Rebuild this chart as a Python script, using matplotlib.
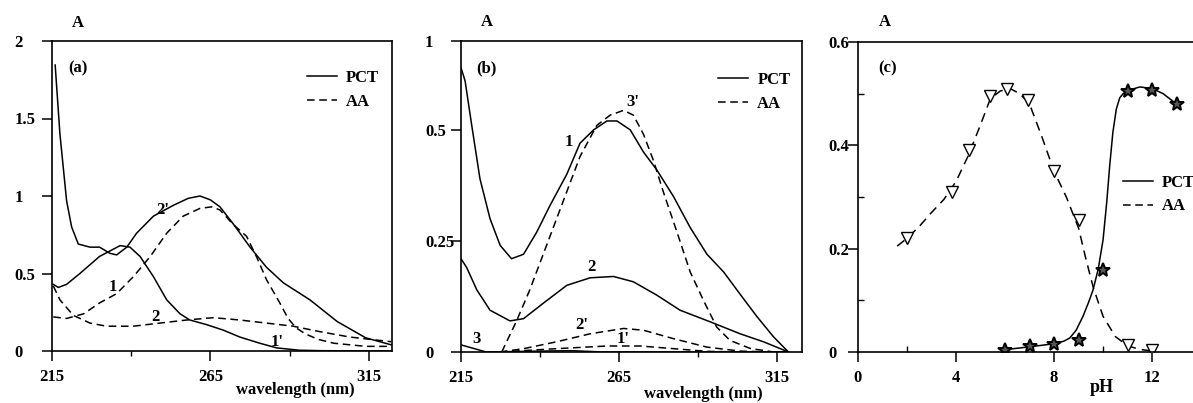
import matplotlib
matplotlib.use("Agg")
import matplotlib.pyplot as plt
from matplotlib.lines import Line2D

# ---------------- data ----------------
# Panel (a)
wl_a1 = [216, 217.5, 219.6, 221.2, 223.3, 227, 230, 233.3, 235.4, 238.6, 241.7, 247, 253.3,
         258, 261.7, 265, 268, 272.2, 277.5, 282.7, 288, 296.4, 305, 314, 322]
a_1 = [1.845, 1.40, 0.97, 0.80, 0.69, 0.67, 0.67, 0.63, 0.62, 0.67, 0.76, 0.87, 0.94,
       0.985, 1.0, 0.975, 0.93, 0.82, 0.67, 0.54, 0.44, 0.33, 0.19, 0.085, 0.04]
wl_a2 = [215.4, 217, 219.6, 223.8, 230, 236.5, 239.6, 242.8, 247, 251.2, 255.4, 258.5,
         263.8, 269, 274.3, 280.6, 285.9, 293, 300, 322]
a_2 = [0.43, 0.41, 0.43, 0.50, 0.61, 0.68, 0.67, 0.61, 0.48, 0.33, 0.24, 0.20,
       0.17, 0.135, 0.09, 0.05, 0.02, 0.005, 0.002, 0.0]
wl_a3 = [215.4, 219.6, 225, 230, 235.4, 240.7, 246, 251.2, 256.4, 261.7, 265.4, 268,
         272, 276.4, 279.5, 282.7, 286.9, 289.5, 292, 295, 299, 304, 314, 322]
a_3 = [0.22, 0.21, 0.24, 0.31, 0.37, 0.48, 0.61, 0.76, 0.87, 0.92, 0.93, 0.91,
       0.82, 0.74, 0.61, 0.46, 0.31, 0.21, 0.15, 0.11, 0.075, 0.05, 0.03, 0.03]
wl_a4 = [215.4, 217.5, 221.7, 227, 232.2, 240.7, 249, 257.5, 265.9, 274.3, 282.7,
         291.1, 299.5, 309, 322]
a_4 = [0.42, 0.33, 0.23, 0.18, 0.16, 0.16, 0.18, 0.20, 0.215, 0.20, 0.18,
       0.16, 0.125, 0.09, 0.06]
labels_a = ["2'", "1", "2", "1'"]
lab_a_x = [250.0, 234.2, 247.5, 286.0]
lab_a_y = [0.91, 0.41, 0.22, 0.06]

# Panel (b)
wl_b1 = [215, 216.3, 218.4, 221, 224.2, 227.4, 231, 234.8, 239, 243.2, 248.5, 252.7,
         257, 261.2, 264.4, 268.6, 272.8, 277, 282.3, 287.6, 292.9, 298.2, 303.4,
         308.7, 314, 318.7]
b_1 = [0.64, 0.61, 0.51, 0.39, 0.30, 0.24, 0.21, 0.22, 0.27, 0.33, 0.40, 0.47,
       0.50, 0.52, 0.52, 0.50, 0.45, 0.41, 0.35, 0.28, 0.22, 0.18, 0.13,
       0.08, 0.034, 0.0]
wl_b2 = [215, 216.8, 220, 224.2, 230.5, 234.8, 241.1, 248.5, 255.9, 263.3, 269.6,
         277, 284.4, 293.9, 303.4, 310.8, 318.7]
b_2 = [0.21, 0.19, 0.14, 0.094, 0.07, 0.075, 0.11, 0.15, 0.167, 0.17, 0.158,
       0.128, 0.094, 0.068, 0.041, 0.023, 0.0]
wl_b3 = [215, 219, 223, 240, 250, 260, 318.7]
b_3 = [0.016, 0.008, 0.0, 0.002, 0.003, 0.0, 0.0]
wl_b4 = [227.9, 232.6, 236.8, 242.1, 247.4, 252.7, 258, 262.2, 266.5, 269.6, 272.8,
         276, 279.1, 283.4, 287.6, 291.8, 296, 300.2, 306.6, 314, 318.7]
b_4 = [0.0, 0.07, 0.14, 0.24, 0.34, 0.44, 0.51, 0.533, 0.544, 0.533, 0.49,
       0.43, 0.36, 0.27, 0.18, 0.116, 0.056, 0.026, 0.008, 0.0, 0.0]
wl_b5 = [227.3, 234.8, 245.3, 255.9, 266.5, 272.8, 282.3, 292.9, 303.4, 314, 318.7]
b_5 = [0.0, 0.0075, 0.023, 0.041, 0.053, 0.049, 0.03, 0.011, 0.002, 0.0, 0.0]
wl_b6 = [227.3, 245.3, 261.2, 271.8, 282.3, 292.9, 303.4, 318.7]
b_6 = [0.0, 0.0075, 0.0135, 0.0135, 0.0075, 0.0015, 0.0, 0.0]
labels_b = ["1", "3'", "2", "2'", "1'", "3"]
lab_b_x = [249.0, 269.4, 256.4, 253.3, 266.5, 220.0]
lab_b_y = [0.473, 0.563, 0.191, 0.06, 0.03, 0.03]
yticks_b = [0, 0.25, 0.5, 0.7]
yticklabels_b = ["0", "0.25", "0.5", "1"]

# Panel (c)
ph_aa = [2, 3.85, 4.53, 5.37, 6.08, 6.95, 8.0, 9.0, 11.0, 12.0]
a_aa = [0.22, 0.31, 0.39, 0.496, 0.509, 0.488, 0.35, 0.255, 0.013, 0.004]
ph_pct = [6.0, 7.0, 8.0, 9.0, 10.0, 11.0, 12.0, 13.0]
a_pct = [0.003, 0.011, 0.0155, 0.024, 0.158, 0.506, 0.508, 0.48]
ph_aa_curve = [1.6, 2, 2.5, 3, 3.5, 4, 4.5, 5, 5.4, 5.8, 6.2, 6.6, 7, 7.5, 8, 8.5, 9,
               9.3, 9.6, 10, 10.5, 11, 11.5, 12]
a_aa_curve = [0.205, 0.22, 0.243, 0.27, 0.295, 0.33, 0.38, 0.44, 0.49, 0.505, 0.51,
              0.50, 0.48, 0.417, 0.35, 0.30, 0.24, 0.18, 0.125, 0.069, 0.03, 0.012,
              0.005, 0.002]
ph_pct_curve = [5.9, 7, 8, 8.4, 8.64, 8.9, 9.18, 9.4, 9.59, 9.8, 10.0, 10.15, 10.27,
                10.4, 10.54, 10.68, 10.82, 11.0, 11.5, 12.0, 12.45, 13.0]
a_pct_curve = [0.004, 0.01, 0.016, 0.021, 0.027, 0.042, 0.069, 0.095, 0.12, 0.16,
               0.217, 0.29, 0.36, 0.425, 0.47, 0.492, 0.50, 0.506, 0.513, 0.51, 0.50,
               0.48]

# ---------------- style ----------------
FONT = ["Liberation Serif", "DejaVu Serif"]
FS = 12
plt.rcParams["font.family"] = FONT
plt.rcParams["font.weight"] = "bold"
plt.rcParams["font.size"] = FS
DASH = (0, (5, 3))
LW = 1.1

W, H = 1193, 403
fig = plt.figure(figsize=(W / 100, H / 100), dpi=100)

def px_axes(left, top, right, bottom):
    return fig.add_axes([left / W, (H - bottom) / H, (right - left) / W, (bottom - top) / H])

ax_a = px_axes(52, 41, 392, 351)
ax_b = px_axes(461, 41, 802, 352)
ax_c = px_axes(858, 42, 1193, 352)

def style(ax, ypad):
    for s in ax.spines.values():
        s.set_linewidth(1.2)
    ax.tick_params(axis="both", which="major", direction="out", length=7, width=1.1,
                   labelsize=FS)
    ax.tick_params(axis="x", which="major", pad=6)
    ax.tick_params(axis="y", which="major", pad=ypad)
    for t in ax.get_yticklabels():
        t.set_horizontalalignment("left")
        t.set_fontweight("bold")
    for t in ax.get_xticklabels():
        t.set_fontweight("bold")

def legend(ax, x, y):
    h = [Line2D([], [], color="black", lw=LW),
         Line2D([], [], color="black", lw=LW, linestyle=DASH)]
    ax.legend(h, ["PCT", "AA"], loc="upper left", bbox_to_anchor=(x, y), frameon=False,
              borderpad=0, borderaxespad=0, handlelength=1.8, handletextpad=0.55,
              labelspacing=0.45, prop={"family": FONT, "weight": "bold", "size": FS})

# ---- panel (a)
ax = ax_a
ax.plot(wl_a1, a_1, color="black", lw=LW)
ax.plot(wl_a2, a_2, color="black", lw=LW)
ax.plot(wl_a3, a_3, color="black", lw=LW, linestyle=DASH)
ax.plot(wl_a4, a_4, color="black", lw=LW, linestyle=DASH)
for lab, x, y in zip(labels_a, lab_a_x, lab_a_y):
    ax.text(x, y, lab, ha="center", va="center", fontsize=FS, fontweight="bold")
ax.set_xlim(215, 322.3)
ax.set_ylim(0, 2)
ax.set_xticks([215, 265, 315])
ax.set_xticks([240, 290], minor=True)
ax.set_yticks([0, 0.5, 1, 1.5, 2])
ax.set_yticklabels(["0", "0.5", "1", "1.5", "2"])
ax.tick_params(axis="x", which="minor", direction="out", length=3.5, width=1.0)
style(ax, 20)
ax.text(0.076, 1.058, "A", transform=ax.transAxes, ha="center", va="center", fontsize=FS, fontweight="bold")
ax.text(0.077, 0.913, "(a)", transform=ax.transAxes, ha="center", va="center", fontsize=FS, fontweight="bold")
ax.text(0.715, -0.126, "wavelength (nm)", transform=ax.transAxes, ha="center", va="center",
        fontsize=FS, fontweight="bold")
legend(ax, 0.75, 0.906)

# ---- panel (b)
ax = ax_b
ax.plot(wl_b1, b_1, color="black", lw=LW)
ax.plot(wl_b2, b_2, color="black", lw=LW)
ax.plot(wl_b3, b_3, color="black", lw=LW)
ax.plot(wl_b4, b_4, color="black", lw=LW, linestyle=DASH)
ax.plot(wl_b5, b_5, color="black", lw=LW, linestyle=DASH)
ax.plot(wl_b6, b_6, color="black", lw=LW, linestyle=DASH)
for lab, x, y in zip(labels_b, lab_b_x, lab_b_y):
    ax.text(x, y, lab, ha="center", va="center", fontsize=FS, fontweight="bold")
ax.set_xlim(215, 323)
ax.set_ylim(0, 0.7)
ax.set_xticks([215, 265, 315])
ax.set_xticks([240, 290], minor=True)
ax.set_yticks(yticks_b)
ax.set_yticklabels(yticklabels_b)
ax.tick_params(axis="x", which="minor", direction="out", length=3.5, width=1.0)
style(ax, 19)
ax.text(0.076, 1.061, "A", transform=ax.transAxes, ha="center", va="center", fontsize=FS, fontweight="bold")
ax.text(0.076, 0.913, "(b)", transform=ax.transAxes, ha="center", va="center", fontsize=FS, fontweight="bold")
ax.text(0.71, -0.134, "wavelength (nm)", transform=ax.transAxes, ha="center", va="center",
        fontsize=FS, fontweight="bold")
legend(ax, 0.754, 0.90)

# ---- panel (c)
ax = ax_c
ax.plot(ph_aa_curve, a_aa_curve, color="black", lw=LW, linestyle=(0, (6, 4)))
ax.plot(ph_pct_curve, a_pct_curve, color="black", lw=LW)
ax.plot(ph_aa, a_aa, linestyle="none", marker="v", markersize=8, markerfacecolor="white",
        markeredgecolor="black", markeredgewidth=1.0)
ax.plot(ph_pct, a_pct, linestyle="none", marker="*", markersize=10, markerfacecolor="#555555",
        markeredgecolor="black", markeredgewidth=1.4)
ax.set_xlim(0, 13.67)
ax.set_ylim(0, 0.6)
ax.set_xticks([0, 4, 8, 12])
ax.set_xticks([2, 6, 10], minor=True)
ax.set_yticks([0, 0.2, 0.4, 0.6])
ax.set_yticklabels(["0", "0.2", "0.4", "0.6"])
ax.set_yticks([0.1, 0.3, 0.5], minor=True)
ax.tick_params(axis="both", which="minor", direction="in", length=4, width=1.0)
ax.spines["right"].set_visible(False)
style(ax, 14)
ax.text(0.08, 1.065, "A", transform=ax.transAxes, ha="center", va="center", fontsize=FS, fontweight="bold")
ax.text(0.087, 0.916, "(c)", transform=ax.transAxes, ha="center", va="center", fontsize=FS, fontweight="bold")
ax.text(0.728, -0.116, "pH", transform=ax.transAxes, ha="center", va="center",
        fontsize=FS + 1, fontweight="bold")
legend(ax, 0.79, 0.571)

fig.savefig("out.png", dpi=100)
